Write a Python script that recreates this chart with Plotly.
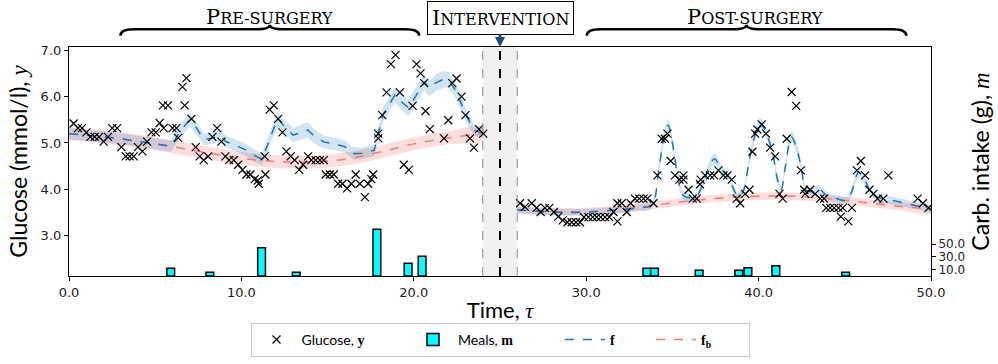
import plotly.graph_objects as go

# ---------------- data ----------------
# Glucose observations (time, mmol/l)
GLUCOSE_T = [0.27, 0.52, 0.75, 1.01, 1.24, 1.49, 1.74, 2.01, 2.26, 2.51, 2.79, 3.04, 3.29, 3.52, 3.75,
             4.00, 4.26, 4.53, 4.78, 5.03, 5.26, 5.49, 5.45, 5.74, 6.00, 6.23, 6.33, 6.58, 6.71, 6.81,
             7.10, 7.35, 7.58, 7.81, 8.07, 8.32, 8.59, 8.84, 9.07, 9.28, 9.56, 9.81, 10.06, 10.29, 10.52,
             10.77, 10.95, 11.00, 11.39, 11.35, 11.64, 11.88, 12.13, 12.38, 12.61, 12.86, 13.09, 13.35,
             13.58, 13.87, 14.06, 14.31, 14.55, 14.78, 14.89, 15.13, 15.36, 15.61, 15.86, 16.13, 16.38,
             16.63, 16.87, 17.16, 17.35, 17.54, 17.64, 17.94, 17.94, 18.17, 18.42, 18.67, 18.94, 19.19,
             19.42, 19.71, 19.93, 20.16, 20.39, 20.60, 20.68, 20.93, 21.75, 22.00, 22.23, 22.48, 22.77,
             23.00, 23.26, 23.49, 23.78, 24.03,
             26.16, 26.45, 26.84, 27.13, 27.36, 27.61, 27.86, 28.13, 28.38, 28.64, 28.91, 29.16, 29.41,
             29.64, 29.87, 30.13, 30.38, 30.61, 30.84, 31.09, 31.34, 31.58, 31.81, 31.81, 32.06, 32.35,
             32.58, 32.83, 33.08, 33.32, 33.55, 33.90, 34.13, 34.38, 34.57, 34.71, 34.90, 35.15, 35.41,
             35.64, 35.64, 35.93, 36.18, 36.41, 36.60, 36.64, 36.90, 37.19, 37.42, 37.67, 37.96, 38.19,
             38.44, 38.73, 38.93, 39.22, 39.47, 39.64, 39.80, 39.93, 40.18, 40.43, 40.67, 40.96, 41.21,
             41.40, 41.63, 41.92, 42.18, 42.45, 42.64, 42.70, 42.99, 43.28, 43.57, 43.80, 43.92, 44.15,
             44.38, 44.63, 44.88, 44.77, 45.21, 45.41, 45.70, 45.93, 46.18, 46.43, 46.66, 46.90, 47.24,
             47.53, 49.22, 49.53, 49.86]
GLUCOSE_Y = [5.42, 5.32, 5.32, 5.23, 5.13, 5.13, 5.13, 5.03, 5.13, 5.32, 5.32, 4.91, 4.71, 4.71, 4.71,
             4.91, 4.82, 5.03, 5.23, 5.23, 5.43, 5.32, 5.81, 5.81, 5.32, 5.32, 5.11, 6.21, 5.81, 6.40,
             5.52, 4.91, 4.71, 4.63, 4.71, 5.13, 5.32, 5.03, 4.71, 4.63, 4.63, 4.53, 4.42, 4.32, 4.32,
             4.22, 4.19, 4.12, 4.32, 4.71, 5.72, 5.81, 5.52, 5.23, 4.82, 4.71, 4.63, 4.42,
             4.53, 4.71, 4.63, 4.63, 4.63, 4.63, 4.32, 4.32, 4.32, 4.12, 4.12, 4.02, 4.12,
             4.32, 4.12, 3.83, 4.12, 4.22, 4.32, 5.10, 5.20, 5.60, 6.09, 6.70, 6.90, 6.09,
             4.53, 4.42, 5.80, 6.70, 6.50, 6.29, 5.69, 5.30, 5.10, 5.49, 6.29, 6.39, 6.00,
             5.60, 5.10, 4.90, 5.30, 5.20,
             3.70, 3.62, 3.70, 3.60, 3.51, 3.60, 3.60, 3.51, 3.41, 3.33, 3.29, 3.29, 3.29,
             3.29, 3.40, 3.40, 3.40, 3.40, 3.40, 3.40, 3.40, 3.51, 3.70, 3.31, 3.70, 3.51,
             3.70, 3.80, 3.80, 3.80, 3.80, 3.70, 4.30, 5.09, 5.09, 5.20, 4.61, 4.30, 4.21,
             4.30, 4.21, 3.99, 3.80, 3.80, 4.11, 4.21, 4.30, 4.30, 4.30, 4.41, 4.30, 4.30,
             4.21, 3.80, 3.70, 3.90, 3.99, 4.81, 5.20, 5.29, 5.40, 5.20, 4.90, 4.71, 3.90,
             3.80, 5.09, 6.10, 5.80, 4.41, 3.99, 3.90, 3.99, 3.90, 3.80, 3.80, 3.60, 3.60,
             3.60, 3.60, 3.60, 3.41, 3.31, 3.60, 4.41, 4.61, 4.30, 3.99, 3.90, 3.80, 3.80,
             4.30, 3.80, 3.70, 3.60]

# Meals (time, grams of carbohydrate)
MEAL_T = [5.90, 8.17, 11.17, 13.18, 17.86, 19.67, 20.48, 33.52, 33.96, 36.55, 38.85, 39.38, 41.00, 45.05]
MEAL_G = [12, 6, 44, 6, 73, 20, 31, 12, 12, 9, 9, 13, 16, 6]

# Fitted response f with its credible half-width, before and after surgery
F_PRE_T = [0, 1, 2, 3, 4, 5, 5.9, 6.5, 7.0, 7.4, 7.8, 8.3, 8.75, 9.1, 9.6, 10.3, 10.8, 11.2,
           11.7, 12.1, 12.5, 13.0, 13.4, 13.85, 14.3, 14.8, 15.5, 16.0, 16.5, 17.0, 17.7,
           18.2, 18.9, 19.3, 19.7, 20.1, 20.6, 20.9, 21.3, 21.7, 22.0, 22.4, 22.8, 23.1, 23.5, 24.0]
F_PRE = [5.20, 5.17, 5.13, 5.09, 5.04, 4.98, 4.93, 5.28, 5.50, 5.32, 5.08, 5.10, 5.17, 5.03, 4.96,
         4.84, 4.72, 4.65, 5.15, 5.53, 5.35, 5.17, 5.22, 5.28, 5.12, 5.02, 4.97, 4.92, 4.77, 4.78,
         4.84, 5.60, 6.03, 5.88, 5.76, 6.00, 6.31, 6.18, 6.30, 6.37, 6.36, 6.15, 5.80, 5.55, 5.27, 5.22]
F_PRE_SD = [0.12, 0.12, 0.12, 0.12, 0.12, 0.12, 0.12, 0.14, 0.15, 0.14, 0.13, 0.13, 0.13, 0.13, 0.13,
            0.13, 0.13, 0.13, 0.15, 0.16, 0.15, 0.15, 0.16, 0.17, 0.15, 0.14, 0.13, 0.13, 0.13, 0.12,
            0.12, 0.15, 0.16, 0.17, 0.18, 0.18, 0.17, 0.17, 0.18, 0.18, 0.17, 0.16, 0.15, 0.14, 0.12, 0.11]

F_POST_T = [26, 27, 28, 29, 30, 31, 32, 33, 33.8, 34.2, 34.5, 34.75, 35.0, 35.3, 35.6, 36.0, 36.4,
            36.8, 37.2, 37.45, 37.8, 38.2, 38.5, 38.8, 39.1, 39.4, 39.7, 40.1, 40.4, 40.8, 41.1,
            41.3, 41.55, 41.9, 42.2, 42.5, 42.75, 43.1, 43.5, 44.0, 44.5, 45.1, 45.4, 45.8, 46.1,
            46.5, 46.9, 47.5, 48.5, 49.3, 50]
F_POST = [3.56, 3.53, 3.51, 3.50, 3.51, 3.53, 3.56, 3.60, 3.66, 4.40, 5.10, 5.38, 5.00, 4.30, 3.88,
          3.82, 3.85, 4.15, 4.55, 4.66, 4.45, 4.30, 4.05, 3.85, 3.95, 4.50, 5.05, 5.42, 5.25, 4.80,
          4.20, 3.98, 4.48, 5.13, 4.90, 4.40, 3.98, 3.95, 4.00, 3.85, 3.80, 3.76, 3.95, 4.37, 4.25,
          3.95, 3.83, 3.78, 3.70, 3.63, 3.57]
F_POST_SD = [0.07, 0.07, 0.07, 0.07, 0.07, 0.07, 0.07, 0.07, 0.08, 0.12, 0.13, 0.13, 0.12, 0.11, 0.10,
             0.09, 0.09, 0.10, 0.11, 0.11, 0.10, 0.09, 0.09, 0.08, 0.09, 0.10, 0.11, 0.12, 0.11, 0.11,
             0.10, 0.09, 0.10, 0.12, 0.11, 0.10, 0.09, 0.09, 0.09, 0.08, 0.08, 0.08, 0.09, 0.10, 0.10,
             0.09, 0.08, 0.08, 0.08, 0.07, 0.07]

# Baseline f_b with its credible half-width
FB_PRE_T = [0, 2, 4, 6, 8, 10, 12, 14, 16, 18, 20, 22, 24]
FB_PRE = [5.20, 5.14, 5.04, 4.92, 4.79, 4.67, 4.60, 4.59, 4.65, 4.80, 4.98, 5.11, 5.20]
FB_PRE_SD = [0.14, 0.14, 0.14, 0.14, 0.14, 0.14, 0.14, 0.14, 0.14, 0.14, 0.14, 0.14, 0.14]
FB_POST_T = [26, 28, 30, 32, 34, 36, 38, 40, 42, 44, 46, 48, 50]
FB_POST = [3.56, 3.52, 3.52, 3.57, 3.66, 3.75, 3.82, 3.85, 3.85, 3.80, 3.72, 3.64, 3.57]
FB_POST_SD = [0.08, 0.08, 0.08, 0.08, 0.08, 0.08, 0.08, 0.08, 0.08, 0.08, 0.08, 0.08, 0.08]

# Phases and intervention window
PRE_SPAN = (2.98, 20.31)
POST_SPAN = (30.03, 48.57)
PRE_LABEL_X = 11.65
POST_LABEL_X = 39.8
INTERVENTION = (24.0, 25.0, 26.0)

X_TICKS = [0, 10, 20, 30, 40, 50]
Y_TICKS = [3, 4, 5, 6, 7]
Y2_TICKS = [10, 30, 50]

# ---------------- styling ----------------
BLUE = "#1f77b4"
RED = "#f47b7b"
BLUE_BAND = "rgba(31,119,180,0.20)"
RED_BAND = "rgba(240,60,60,0.17)"
SANS = "Lato, 'Noto Sans', sans-serif"
SERIF = "'DejaVu Serif', serif"
MATH = "'Liberation Serif', serif"
TICK_FONT = dict(family="DejaVu Sans", size=13, color="#222222")
EM = "\u2003"
EN = "\u2002"


def band_polygon(t, f, sd):
    upper = [a + b for a, b in zip(f, sd)]
    lower = [a - b for a, b in zip(f, sd)]
    return list(t) + list(t)[::-1], upper + lower[::-1]


def small_caps(word, small=16):
    head, tail = word[0], word[1:].upper()
    return f"{head}<span style='font-size:{small}px'>{tail}</span>"


def math(sym):
    return f"<span style=\"font-family:{MATH}\"><b>{sym}</b></span>"


fig = go.Figure()

# credible bands: baseline first, full response on top
for t, f, sd in [(FB_PRE_T, FB_PRE, FB_PRE_SD), (FB_POST_T, FB_POST, FB_POST_SD)]:
    bx, by = band_polygon(t, f, sd)
    fig.add_trace(go.Scatter(x=bx, y=by, fill="toself", fillcolor=RED_BAND, mode="lines",
                             line=dict(width=0, shape="spline"), showlegend=False, hoverinfo="skip"))
for t, f, sd, shape in [(F_PRE_T, F_PRE, F_PRE_SD, "linear"),
                        (F_POST_T, F_POST, F_POST_SD, "spline")]:
    bx, by = band_polygon(t, f, sd)
    fig.add_trace(go.Scatter(x=bx, y=by, fill="toself", fillcolor=BLUE_BAND, mode="lines",
                             line=dict(width=0, shape=shape), showlegend=False, hoverinfo="skip"))

# meals on the secondary axis
fig.add_trace(go.Bar(x=MEAL_T, y=MEAL_G, width=0.45, yaxis="y2",
                     marker=dict(color="#00ffff", line=dict(color="black", width=1.5)),
                     name="Meals, " + math("m") + EM * 4, legendrank=2))

# baseline and full response
fig.add_trace(go.Scatter(x=FB_PRE_T, y=FB_PRE, mode="lines",
                         line=dict(color=RED, dash="dash", width=1.5, shape="spline"),
                         name=math("f<sub>b</sub>") + EM * 3, legendgroup="fb", legendrank=4))
fig.add_trace(go.Scatter(x=FB_POST_T, y=FB_POST, mode="lines",
                         line=dict(color=RED, dash="dash", width=1.5, shape="spline"),
                         showlegend=False, legendgroup="fb"))
fig.add_trace(go.Scatter(x=F_PRE_T, y=F_PRE, mode="lines", line=dict(color=BLUE, dash="dash", width=1.5),
                         name=math("f") + EM * 3, legendgroup="f", legendrank=3))
fig.add_trace(go.Scatter(x=F_POST_T, y=F_POST, mode="lines",
                         line=dict(color=BLUE, dash="dash", width=1.5, shape="spline"),
                         showlegend=False, legendgroup="f"))

# glucose observations
fig.add_trace(go.Scatter(x=GLUCOSE_T, y=GLUCOSE_Y, mode="markers",
                         marker=dict(symbol="x-thin", size=8, line=dict(color="black", width=1.2)),
                         name="Glucose, " + math("y") + EM * 3 + EN, legendrank=1))

# intervention window
x_lo, x_mid, x_hi = INTERVENTION
fig.add_shape(type="rect", x0=x_lo, x1=x_hi, y0=0, y1=1, yref="paper",
              fillcolor="rgba(128,128,128,0.12)", line_width=0, layer="below")
for xv in (x_lo, x_hi):
    fig.add_shape(type="line", x0=xv, x1=xv, y0=0, y1=1, yref="paper",
                  line=dict(color="#888888", width=1, dash="dash"))
fig.add_shape(type="line", x0=x_mid, x1=x_mid, y0=0, y1=1, yref="paper",
              line=dict(color="black", width=2, dash="dash"))


def brace_path(x0, x1, y_end=1.0495, y_mid=1.0779, y_tip=1.0976, curl=0.8):
    xc = (x0 + x1) / 2
    return (f"M {x0},{y_end} Q {x0},{y_mid} {x0 + curl},{y_mid} "
            f"L {xc - curl},{y_mid} Q {xc},{y_mid} {xc},{y_tip} "
            f"Q {xc},{y_mid} {xc + curl},{y_mid} L {x1 - curl},{y_mid} "
            f"Q {x1},{y_mid} {x1},{y_end}")


for span in (PRE_SPAN, POST_SPAN):
    fig.add_shape(type="path", path=brace_path(*span), xref="x", yref="paper",
                  line=dict(color="black", width=2.5))

HEAD_FONT = dict(family=SERIF, size=21, color="black")
fig.add_annotation(x=PRE_LABEL_X, y=1.133, xref="x", yref="paper", yanchor="middle", showarrow=False,
                   text=small_caps("Pre-surgery"), font=HEAD_FONT)
fig.add_annotation(x=POST_LABEL_X, y=1.133, xref="x", yref="paper", yanchor="middle", showarrow=False,
                   text=small_caps("Post-surgery"), font=HEAD_FONT)
fig.add_annotation(x=x_mid, y=1.0, xref="x", yref="paper", ax=0, ay=-29,
                   text=small_caps("Intervention"), font=HEAD_FONT,
                   showarrow=True, arrowhead=2, arrowsize=0.8, arrowwidth=2.5, arrowcolor="#1d4a70",
                   bordercolor="black", borderwidth=1, borderpad=4, bgcolor="white")

fig.update_layout(
    width=998, height=364,
    margin=dict(l=69, r=67, t=47, b=88, autoexpand=False),
    plot_bgcolor="white", paper_bgcolor="white",
    barmode="overlay",
    xaxis=dict(range=[0, 50], tickvals=X_TICKS, ticktext=[f"{v:.1f}" for v in X_TICKS],
               ticks="outside", ticklen=4, tickcolor="black", tickfont=TICK_FONT,
               ticklabelstandoff=0,
               showline=True, linecolor="black", linewidth=1.2, mirror=True,
               showgrid=False, zeroline=False,
               title=dict(text="Time, <i style=\"font-family:'Liberation Serif'\">τ</i>",
                          font=dict(family=SANS, size=22, color="black"), standoff=3)),
    yaxis=dict(range=[2.13, 7.07], tickvals=Y_TICKS, ticktext=[f"{v:.1f}" for v in Y_TICKS],
               ticks="outside", ticklen=4, tickcolor="black", tickfont=TICK_FONT,
               showline=True, linecolor="black", linewidth=1.2, mirror=True,
               showgrid=False, zeroline=False,
               title=dict(text="Glucose (mmol/l), <i style=\"font-family:'Liberation Serif'\">y</i>",
                          font=dict(family=SANS, size=23, color="black"), standoff=6)),
    yaxis2=dict(range=[0, 358], overlaying="y", side="right", tickvals=Y2_TICKS,
                ticktext=[f"{v:.1f}" for v in Y2_TICKS],
                ticks="outside", ticklen=4, tickcolor="black",
                tickfont=dict(family="DejaVu Sans", size=12, color="#222222"),
                showline=False, showgrid=False, zeroline=False,
                title=dict(text="Carb. intake (g), <i style=\"font-family:'Liberation Serif'\">m</i>",
                           font=dict(family=SANS, size=23, color="black"), standoff=8)),
    legend=dict(orientation="h", x=0.5, xanchor="center", y=-0.205, yanchor="top",
                bordercolor="#cccccc", borderwidth=1, bgcolor="white",
                font=dict(family=SANS, size=14, color="black"),
                itemwidth=40, traceorder="normal"),
    showlegend=True,
)

fig.write_html("out.html")
